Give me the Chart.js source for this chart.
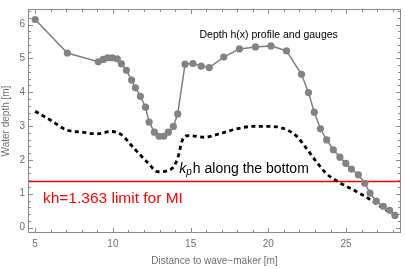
<!DOCTYPE html>
<html>
<head>
<meta charset="utf-8">
<script src="https://cdn.jsdelivr.net/npm/chart.js@4.4.1/dist/chart.umd.min.js"></script>
<style>
    html, body { margin: 0; padding: 0; background: #fff; }
</style>
</head>
<body>
<canvas id="chart" width="405" height="269"></canvas>
<script>
// Gauge positions and measured water depth h(x)
const gaugeX = [5.0, 7.07, 9.06, 9.38, 9.66, 9.96, 10.28, 10.55, 10.87, 11.2, 11.45, 11.77, 12.1, 12.33, 12.67, 12.97,
    13.27, 13.57, 13.89, 14.17, 14.64, 15.15, 15.68, 16.2, 17.13, 18.14, 19.17, 20.17, 21.17, 22.13, 22.58, 22.95,
    23.35, 23.75, 24.18, 24.6, 24.98, 25.34, 25.79, 26.2, 26.54, 26.94, 27.39, 27.8, 28.14];
const gaugeDepth = [6.15, 5.16, 4.9, 4.97, 5.02, 5.02, 4.99, 4.84, 4.65, 4.36, 4.13, 3.88, 3.56, 3.12, 2.82, 2.7,
    2.7, 2.82, 2.99, 3.36, 4.83, 4.85, 4.77, 4.73, 5.04, 5.28, 5.34, 5.37, 5.22, 4.53, 3.99, 3.41,
    2.92, 2.59, 2.3, 2.08, 1.9, 1.73, 1.56, 1.31, 1.02, 0.78, 0.63, 0.51, 0.36];

// k_p h along the bottom
const kphX = [5, 6, 7, 8, 9, 9.9, 10.5, 11.4, 12.2, 12.9, 13.5, 13.9, 14.2, 14.45, 14.85, 15.9, 16.9, 17.9,
    19, 20, 20.9, 21.8, 22.4, 23.1, 23.7, 24.5, 25.4, 26.3, 27.1, 28.1];
const kphValue = [3.44, 3.17, 2.89, 2.82, 2.77, 2.84, 2.76, 2.32, 1.94, 1.65, 1.68, 1.8, 2.1, 2.56, 2.72, 2.67, 2.78, 2.91,
    2.99, 2.99, 2.94, 2.71, 2.37, 1.94, 1.61, 1.35, 1.13, 0.9, 0.66, 0.37];

const khLimit = 1.363;
const xTicks = [5, 10, 15, 20, 25];
const yTicks = [0, 1, 2, 3, 4, 5, 6];
const xRange = [4.54, 28.53];
const yRange = [-0.16, 6.46];

const FONT = "'Liberation Sans', Arial, sans-serif";
const frameColor = '#8a8a8a';
const labelColor = '#6e6e6e';

const toPoints = (xs, ys) => xs.map((x, i) => ({ x, y: ys[i] }));

// Mathematica-like frame with inward ticks + text labels
const framePlugin = {
    id: 'frame',
    afterDraw(chart) {
        const { ctx, chartArea: a, scales: { x, y } } = chart;
        ctx.save();
        ctx.strokeStyle = frameColor;
        ctx.lineWidth = 1;
        ctx.strokeRect(a.left + 0.5, a.top + 0.5, a.right - a.left - 1, a.bottom - a.top - 1);

        ctx.beginPath();
        for (let v = Math.ceil(xRange[0]); v <= xRange[1]; v++) {
            const px = Math.round(x.getPixelForValue(v)) + 0.5;
            const len = v % 5 === 0 ? 5 : 3;
            ctx.moveTo(px, a.bottom); ctx.lineTo(px, a.bottom - len);
            ctx.moveTo(px, a.top); ctx.lineTo(px, a.top + len);
        }
        for (let i = Math.ceil(yRange[0] * 5); i <= yRange[1] * 5; i++) {
            const py = Math.round(y.getPixelForValue(i / 5)) + 0.5;
            const len = i % 5 === 0 ? 5 : 3;
            ctx.moveTo(a.left, py); ctx.lineTo(a.left + len, py);
            ctx.moveTo(a.right, py); ctx.lineTo(a.right - len, py);
        }
        ctx.stroke();

        ctx.textBaseline = 'middle';
        // title inside the plot
        ctx.fillStyle = '#000';
        ctx.font = `10.5px ${FONT}`;
        ctx.textAlign = 'center';
        ctx.fillText('Depth h(x) profile and gauges', x.getPixelForValue(20.02), y.getPixelForValue(5.7));

        // k_p h label
        ctx.textAlign = 'left';
        let px = x.getPixelForValue(14.27);
        const py = y.getPixelForValue(1.74);
        ctx.font = `italic 14px ${FONT}`;
        ctx.fillText('k', px, py);
        px += ctx.measureText('k').width;
        ctx.font = `italic 10px ${FONT}`;
        ctx.fillText('p', px, py + 4);
        px += ctx.measureText('p').width + 1;
        ctx.font = `14px ${FONT}`;
        ctx.fillText('h along the bottom', px, py);

        // limit label
        ctx.fillStyle = '#ff0000';
        ctx.font = `15.5px ${FONT}`;
        ctx.fillText('kh=1.363 limit for MI', x.getPixelForValue(5.5), y.getPixelForValue(0.855));
        ctx.restore();
    }
};

new Chart(document.getElementById('chart'), {
    type: 'scatter',
    data: {
        datasets: [
            {
                label: 'limit',
                data: toPoints(xRange, [khLimit, khLimit]),
                showLine: true,
                borderColor: '#ff0000',
                borderWidth: 1.6,
                pointRadius: 0,
                order: 3
            },
            {
                label: 'kph',
                data: toPoints(kphX, kphValue),
                showLine: true,
                borderColor: '#000',
                borderWidth: 2.8,
                borderDash: [4, 3.5],
                cubicInterpolationMode: 'monotone',
                pointRadius: 0,
                order: 2
            },
            {
                label: 'h',
                data: toPoints(gaugeX, gaugeDepth),
                showLine: true,
                borderColor: '#7f7f7f',
                borderWidth: 1.5,
                pointRadius: 3.6,
                pointBackgroundColor: '#838383',
                pointBorderWidth: 0,
                order: 1
            }
        ]
    },
    options: {
        responsive: false,
        devicePixelRatio: 1,
        animation: false,
        layout: { padding: { top: 1, right: 3, left: 0, bottom: 0 } },
        plugins: { legend: { display: false }, tooltip: { enabled: false } },
        scales: {
            x: {
                type: 'linear',
                min: xRange[0],
                max: xRange[1],
                afterBuildTicks: s => { s.ticks = xTicks.map(v => ({ value: v })); },
                afterFit: s => { s.height = 36; },
                grid: { display: false, drawTicks: false },
                border: { display: false },
                ticks: { color: labelColor, font: { family: FONT, size: 10 }, padding: 5, maxRotation: 0 },
                title: {
                    display: true, text: 'Distance to wave\u2212maker [m]', color: labelColor,
                    font: { family: FONT, size: 10 }, padding: { top: 0, bottom: 2 }
                }
            },
            y: {
                type: 'linear',
                min: yRange[0],
                max: yRange[1],
                afterBuildTicks: s => { s.ticks = yTicks.map(v => ({ value: v })); },
                afterFit: s => { s.width = 28; },
                grid: { display: false, drawTicks: false },
                border: { display: false },
                ticks: { color: labelColor, font: { family: FONT, size: 10 }, padding: 3 },
                title: {
                    display: true, text: 'Water depth [m]', color: labelColor,
                    font: { family: FONT, size: 10 }, padding: { top: 0.5, bottom: 0 }
                }
            }
        }
    },
    plugins: [framePlugin]
});
</script>
</body>
</html>
